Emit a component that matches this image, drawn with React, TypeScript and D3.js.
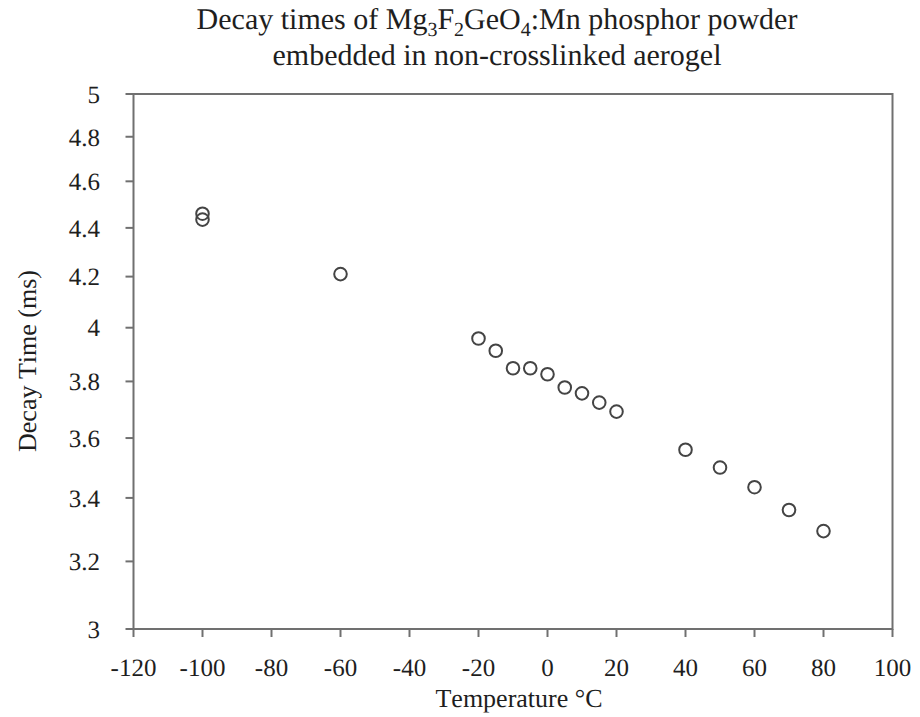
import React from "react";
import * as d3 from "d3";

const temperatures = [-100, -100, -60, -20, -15, -10, -5, 0, 5, 10, 15, 20, 40, 50, 60, 70, 80];
const decayTimes = [4.46, 4.435, 4.21, 3.959, 3.913, 3.848, 3.848, 3.826, 3.778, 3.757, 3.724, 3.692, 3.56, 3.5, 3.435, 3.361, 3.294];
const xTicks = [-120, -100, -80, -60, -40, -20, 0, 20, 40, 60, 80, 100];
const yTicks = [3, 3.2, 3.4, 3.6, 3.8, 4, 4.2, 4.4, 4.6, 4.8, 5];

const W = 920;
const H = 717;
const left = 133.5;
const right = 892.5;
const top = 94;
const bottom = 629;

const ts: React.CSSProperties = {
  fontFamily: "Liberation Serif",
  textRendering: "geometricPrecision",
  fontVariantLigatures: "none",
  fontFeatureSettings: "'kern' 0, 'liga' 0",
};

export default function App() {
  const x = d3.scaleLinear().domain([-120, 100]).range([left, right]);
  const y = d3.scaleLog().domain([3, 5]).range([bottom, top]);
  const axisColor = "#707070";
  const textColor = "#1e1e1e";
  const fmt = (v: number) => String(Math.round(v * 10) / 10);
  const subDy = 7;
  return (
    <svg width={W} height={H} style={{ position: "absolute", left: 0, top: 0, background: "#fff" }}>
      <rect x={0} y={0} width={W} height={H} fill="#fff" />
      <text x={497} y={29} textAnchor="middle" fontSize={30} fill={textColor} style={ts}>
        <tspan style={ts}>Decay times of Mg</tspan>
        <tspan style={ts} fontSize={20} dy={subDy}>3</tspan>
        <tspan style={ts} dy={-subDy}>F</tspan>
        <tspan style={ts} fontSize={20} dy={subDy}>2</tspan>
        <tspan style={ts} dy={-subDy}>GeO</tspan>
        <tspan style={ts} fontSize={20} dy={subDy}>4</tspan>
        <tspan style={ts} dy={-subDy}>:Mn phosphor powder</tspan>
      </text>
      <text x={497} y={65} textAnchor="middle" fontSize={30} fill={textColor} style={ts}>
        embedded in non-crosslinked aerogel
      </text>
      <rect x={left} y={top} width={right - left} height={bottom - top} fill="none" stroke={axisColor} strokeWidth={2} />
      {yTicks.map((t) => (
        <g key={"y" + t}>
          <line x1={left - 8} x2={left} y1={y(t)} y2={y(t)} stroke={axisColor} strokeWidth={2} />
          <text x={100} y={y(t)} dy="0.35em" textAnchor="end" fontSize={25} fill={textColor} style={ts}>
            {fmt(t)}
          </text>
        </g>
      ))}
      {xTicks.map((t) => (
        <g key={"x" + t}>
          <line x1={x(t)} x2={x(t)} y1={bottom} y2={bottom + 8} stroke={axisColor} strokeWidth={2} />
          <text x={x(t)} y={676} textAnchor="middle" fontSize={25} fill={textColor} style={ts}>
            {String(t)}
          </text>
        </g>
      ))}
      <text x={519} y={707} textAnchor="middle" fontSize={26} fill={textColor} style={ts}>
        Temperature °C
      </text>
      <text transform={`translate(36, 361) rotate(-90)`} textAnchor="middle" fontSize={26} fill={textColor} style={ts}>
        Decay Time (ms)
      </text>
      {temperatures.map((t, i) => (
        <circle key={i} cx={x(t)} cy={y(decayTimes[i])} r={6.3} fill="none" stroke="#444" strokeWidth={2} />
      ))}
    </svg>
  );
}
